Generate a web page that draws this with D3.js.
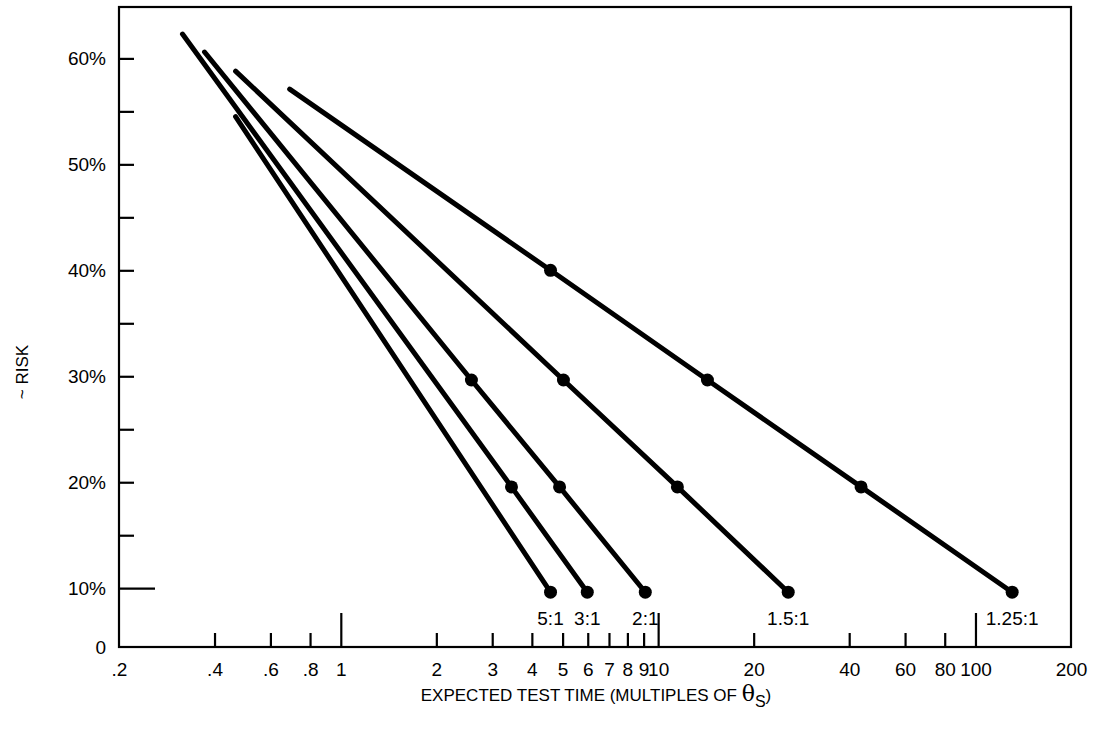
<!DOCTYPE html>
<html>
<head>
<meta charset="utf-8">
<script src="https://cdn.jsdelivr.net/npm/d3@7"></script>
<style>
  body { margin: 0; background: #fff; }
  text { font-family: "Liberation Sans", Arial, Helvetica, sans-serif; fill: #000; }
</style>
</head>
<body>
<svg id="chart" width="1099" height="734"></svg>
<script>
// Discrimination ratios, one line per ratio
const ratios = ["5:1", "3:1", "2:1", "1.5:1", "1.25:1"];
// Expected test time (multiples of θS) along each line: start, marked points, end
const times = [
  [0.466, 4.58],
  [0.317, 3.45, 5.98],
  [0.372, 2.58, 4.89, 9.11],
  [0.466, 5.03, 11.5, 25.7],
  [0.690, 4.58, 14.3, 43.6, 130.5]
];
// Risk (%) at the same points
const risks = [
  [54.5, 9.62],
  [62.3, 19.56, 9.62],
  [60.6, 29.65, 19.56, 9.62],
  [58.8, 29.65, 19.56, 9.62],
  [57.1, 40.0, 29.65, 19.56, 9.62]
];

// Axis ticks
const xTickValues = [0.2, 0.4, 0.6, 0.8, 1, 2, 3, 4, 5, 6, 7, 8, 9, 10, 20, 40, 60, 80, 100, 200];
const xTickLabels = [".2", ".4", ".6", ".8", "1", "2", "3", "4", "5", "6", "7", "8", "9", "10", "20", "40", "60", "80", "100", "200"];
const xMinorTicks = [0.4, 0.6, 0.8, 2, 3, 4, 5, 6, 7, 8, 9, 20, 40, 60, 80];
const xMajorTicks = [1, 10, 100];
const yLabelValues = [10, 20, 30, 40, 50, 60];
const yMinorTicks = [15, 20, 25, 30, 35, 40, 45, 50, 55, 60];
const yMajorTicks = [10];
const xDomain = [0.2, 200];
const yDomain = [4.45, 64.85];

const svg = d3.select("#chart");
const plotLeft = 119, plotRight = 1071, plotTop = 7, plotBottom = 647;

const x = d3.scaleLog().domain(xDomain).range([plotLeft, plotRight]);
const y = d3.scaleLinear().domain(yDomain).range([plotBottom, plotTop]);

const fontSize = 19;

// Frame
svg.append("rect")
  .attr("x", x(xDomain[0])).attr("y", y(yDomain[1]))
  .attr("width", x(xDomain[1]) - x(xDomain[0]))
  .attr("height", y(yDomain[0]) - y(yDomain[1]))
  .attr("fill", "none").attr("stroke", "#000").attr("stroke-width", 2.2);

function styleAxis(g) {
  g.select(".domain").remove();
  g.selectAll(".tick line").attr("stroke", "#000").attr("stroke-width", 2.2);
  g.selectAll(".tick text").attr("font-size", fontSize).attr("font-family", null).attr("fill", "#000");
}

// x tick labels
svg.append("g")
  .attr("transform", `translate(0,${plotBottom})`)
  .call(d3.axisBottom(x).tickValues(xTickValues)
    .tickFormat((d, i) => xTickLabels[i]).tickSize(0).tickPadding(16))
  .call(styleAxis);

// x tick marks (short and long), pointing into the plot
svg.append("g")
  .attr("transform", `translate(0,${plotBottom})`)
  .call(d3.axisBottom(x).tickValues(xMinorTicks).tickFormat("").tickSize(-14))
  .call(styleAxis);
svg.append("g")
  .attr("transform", `translate(0,${plotBottom})`)
  .call(d3.axisBottom(x).tickValues(xMajorTicks).tickFormat("").tickSize(-34))
  .call(styleAxis);

// y tick labels, with the broken-axis baseline labelled 0
svg.append("g")
  .attr("transform", `translate(${plotLeft},0)`)
  .call(d3.axisLeft(y).tickValues([yDomain[0]].concat(yLabelValues))
    .tickFormat(d => d === yDomain[0] ? "0" : d + "%").tickSize(0).tickPadding(13))
  .call(styleAxis);

// y tick marks
svg.append("g")
  .attr("transform", `translate(${plotLeft},0)`)
  .call(d3.axisRight(y).tickValues(yMinorTicks).tickFormat("").tickSize(15))
  .call(styleAxis);
svg.append("g")
  .attr("transform", `translate(${plotLeft},0)`)
  .call(d3.axisRight(y).tickValues(yMajorTicks).tickFormat("").tickSize(36))
  .call(styleAxis);

// Lines
const series = ratios.map((r, i) => ({
  ratio: r,
  pts: times[i].map((t, j) => ({ t: t, risk: risks[i][j] }))
}));

const line = d3.line().x(d => x(d.t)).y(d => y(d.risk));

svg.append("g").selectAll("path")
  .data(series).join("path")
  .attr("d", d => line(d.pts))
  .attr("fill", "none").attr("stroke", "#000")
  .attr("stroke-width", 5).attr("stroke-linecap", "round");

// Marked points (every point after the start)
svg.append("g").selectAll("circle")
  .data(series.flatMap(s => s.pts.slice(1)))
  .join("circle")
  .attr("cx", d => x(d.t)).attr("cy", d => y(d.risk))
  .attr("r", 6.5).attr("fill", "#000");

// Ratio labels under the line ends
svg.append("g").selectAll("text")
  .data(series).join("text")
  .attr("x", d => x(d.pts[d.pts.length - 1].t))
  .attr("y", d => y(d.pts[d.pts.length - 1].risk) + 33)
  .attr("text-anchor", "middle").attr("font-size", fontSize)
  .text(d => d.ratio);

// Axis titles
const xt = svg.append("text")
  .attr("x", 596).attr("y", 701)
  .attr("text-anchor", "middle").attr("font-size", 17);
xt.append("tspan").text("EXPECTED TEST TIME (MULTIPLES OF ");
xt.append("tspan").attr("font-size", 22).attr("font-family", "'DejaVu Serif', serif").text("θ");
xt.append("tspan").attr("font-size", 16).attr("dy", 6).text("S");
xt.append("tspan").attr("dy", -6).text(")");

svg.append("text")
  .attr("transform", "translate(28,372) rotate(-90)")
  .attr("text-anchor", "middle").attr("font-size", 17)
  .text("~ RISK");
</script>
</body>
</html>
